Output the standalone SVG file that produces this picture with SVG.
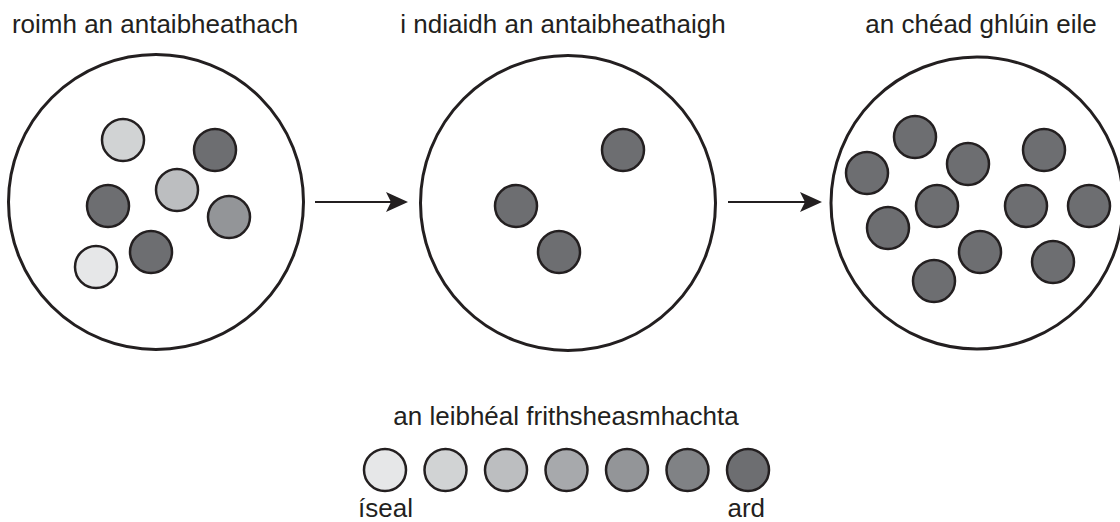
<svg xmlns="http://www.w3.org/2000/svg" width="1120" height="522" viewBox="0 0 1120 522">
<style>
text{font-family:"Liberation Sans",Arial,sans-serif;font-size:26px;fill:#231f20}
.big{fill:#fff;stroke:#231f20;stroke-width:3}
.s{stroke:#231f20;stroke-width:2.5}
.c1{fill:#e6e7e8}.c2{fill:#d1d3d4}.c3{fill:#bcbec0}.c4{fill:#a7a9ac}.c5{fill:#939598}.c6{fill:#808285}.c7{fill:#6d6e71}
.arrow{stroke:#231f20;stroke-width:2;fill:none}
</style>
<defs>
<marker id="ah" markerUnits="userSpaceOnUse" viewBox="0 0 22 20" refX="14" refY="10" markerWidth="22" markerHeight="20" orient="auto">
<path d="M0,0 L22,10 L0,20 L5,10 Z" fill="#231f20"/>
</marker>
</defs>
<rect width="1120" height="522" fill="#fff"/>
<g id="before">
<text x="155" y="33" text-anchor="middle">roimh an antaibheathach</text>
<circle class="big" cx="156" cy="202" r="147.5"/>
<circle class="s c2" cx="123" cy="140" r="21"/>
<circle class="s c7" cx="215" cy="150" r="21"/>
<circle class="s c3" cx="177" cy="190" r="21"/>
<circle class="s c7" cx="108" cy="206" r="21"/>
<circle class="s c5" cx="229" cy="217" r="21"/>
<circle class="s c7" cx="151" cy="252" r="21"/>
<circle class="s c1" cx="96" cy="267" r="21"/>
</g>
<g id="after">
<text x="563" y="33" text-anchor="middle">i ndiaidh an antaibheathaigh</text>
<circle class="big" cx="568" cy="203" r="147.5"/>
<circle class="s c7" cx="623" cy="150" r="21"/>
<circle class="s c7" cx="516" cy="206" r="21"/>
<circle class="s c7" cx="559" cy="252" r="21"/>
</g>
<g id="next">
<text x="981" y="33" text-anchor="middle">an chéad ghlúin eile</text>
<circle class="big" cx="977" cy="203" r="146"/>
<circle class="s c7" cx="915" cy="137" r="21"/>
<circle class="s c7" cx="867" cy="173" r="21"/>
<circle class="s c7" cx="968" cy="164" r="21"/>
<circle class="s c7" cx="1044" cy="150" r="21"/>
<circle class="s c7" cx="937" cy="206" r="21"/>
<circle class="s c7" cx="1026" cy="206" r="21"/>
<circle class="s c7" cx="1089" cy="206" r="21"/>
<circle class="s c7" cx="888" cy="228" r="21"/>
<circle class="s c7" cx="980" cy="252" r="21"/>
<circle class="s c7" cx="1053" cy="262" r="21"/>
<circle class="s c7" cx="934" cy="281" r="21"/>
</g>
<g id="connectors">
<line class="arrow" x1="315" y1="202" x2="400" y2="202" marker-end="url(#ah)"/>
<line class="arrow" x1="728" y1="202" x2="814" y2="202" marker-end="url(#ah)"/>
</g>
<g id="legend">
<text x="566" y="425" text-anchor="middle">an leibhéal frithsheasmhachta</text>
<circle class="s c1" cx="385" cy="470" r="21"/>
<circle class="s c2" cx="445.5" cy="470" r="21"/>
<circle class="s c3" cx="506" cy="470" r="21"/>
<circle class="s c4" cx="566.5" cy="470" r="21"/>
<circle class="s c5" cx="627" cy="470" r="21"/>
<circle class="s c6" cx="687.5" cy="470" r="21"/>
<circle class="s c7" cx="748" cy="470" r="21"/>
<text x="358" y="517">íseal</text>
<text x="765" y="517" text-anchor="end">ard</text>
</g>
</svg>
